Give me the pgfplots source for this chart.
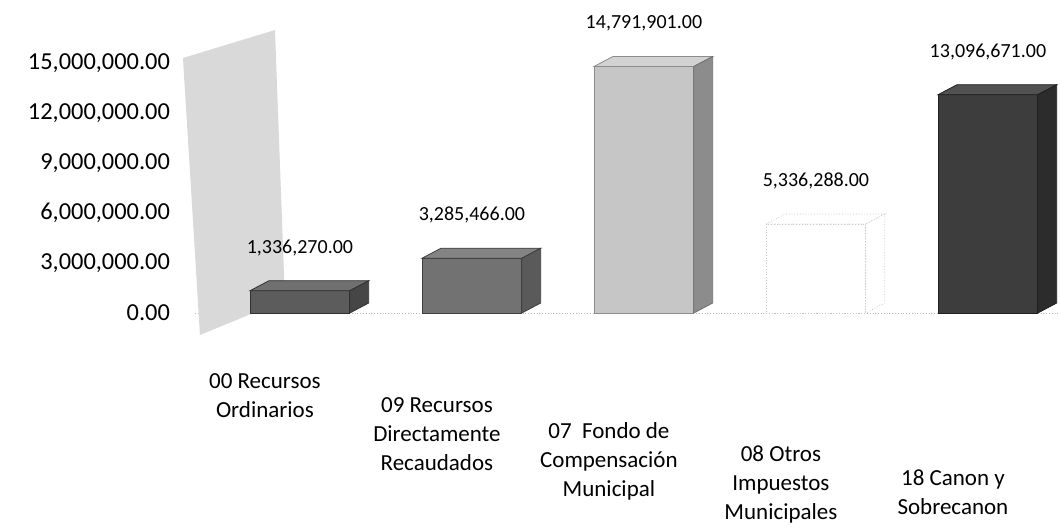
\documentclass[border=0pt]{standalone}
\usepackage{fontspec}
\setmainfont{Carlito}
\usepackage{pgfplots}
\pgfplotsset{compat=1.18}
\definecolor{wall}{HTML}{D9D9D9}
\definecolor{aF}{HTML}{5C5C5C}\definecolor{aT}{HTML}{707070}\definecolor{aS}{HTML}{464646}
\definecolor{bF}{HTML}{727272}\definecolor{bT}{HTML}{848484}\definecolor{bS}{HTML}{5A5A5A}
\definecolor{cF}{HTML}{C6C6C6}\definecolor{cT}{HTML}{D2D2D2}\definecolor{cS}{HTML}{8C8C8C}
\definecolor{eF}{HTML}{3D3D3D}\definecolor{eT}{HTML}{515151}\definecolor{eS}{HTML}{2C2C2C}
\begin{document}
\begin{tikzpicture}
\path[use as bounding box] (-97.5pt,-108pt) rectangle (432.5pt,156.5pt);
\begin{axis}[
  at={(0,0)}, anchor=south west,
  scale only axis, width=432.5pt, height=129.17pt,
  xmin=-0.61, xmax=4.419, ymin=0, ymax=15500000,
  clip=false,
  axis x line=bottom, axis y line=left,
  axis line style={-},
  x axis line style={gray!55, densely dotted},
  y axis line style={draw=none},
  major tick length=0pt,
  scaled y ticks=false,
  ytick={0,3000000,6000000,9000000,12000000,15000000},
  y tick label style={font=\fontsize{12.2}{14}\selectfont, xshift=-9pt,
    /pgf/number format/.cd, fixed, fixed zerofill, precision=2, 1000 sep={,}, assume math mode=true},
  xtick={0,1,2,3,4},
  xticklabels={{00 Recursos\\Ordinarios},{09 Recursos\\Directamente\\Recaudados},{07\ \ Fondo de\\Compensación\\Municipal},{08 Otros\\Impuestos\\Municipales},{18 Canon y\\Sobrecanon}},
  x tick label style={align=center, font=\fontsize{11.5}{14.5}\selectfont, anchor=north, xshift=-17.5pt, yshift=-27pt-12pt*\ticknum},
]
% chart side wall
\addplot[fill=wall, draw=none] coordinates {(-0.680,15300000) (-0.145,16980000) (-0.087,780000) (-0.581,-1320000)} -- cycle;
% 00 Recursos Ordinarios
\addplot[ybar, bar shift=0pt, bar width=0.58, fill=aF, draw=aS!70!black] coordinates {(0,1336270)};
\addplot[fill=aT, draw=aS!70!black] coordinates {(-0.29,1336270) (-0.18,1936270) (0.40,1936270) (0.29,1336270)} -- cycle;
\addplot[fill=aS, draw=aS!70!black] coordinates {(0.29,0) (0.29,1336270) (0.40,1936270) (0.40,600000)} -- cycle;
% 09 Recursos Directamente Recaudados
\addplot[ybar, bar shift=0pt, bar width=0.58, fill=bF, draw=bS!70!black] coordinates {(1,3285466)};
\addplot[fill=bT, draw=bS!70!black] coordinates {(0.71,3285466) (0.82,3885466) (1.40,3885466) (1.29,3285466)} -- cycle;
\addplot[fill=bS, draw=bS!70!black] coordinates {(1.29,0) (1.29,3285466) (1.40,3885466) (1.40,600000)} -- cycle;
% 07 Fondo de Compensacion Municipal
\addplot[ybar, bar shift=0pt, bar width=0.58, fill=cF, draw=cS] coordinates {(2,14791901)};
\addplot[fill=cT, draw=cS] coordinates {(1.71,14791901) (1.82,15391901) (2.40,15391901) (2.29,14791901)} -- cycle;
\addplot[fill=cS, draw=cS!80!black] coordinates {(2.29,0) (2.29,14791901) (2.40,15391901) (2.40,600000)} -- cycle;
% 08 Otros Impuestos Municipales
\addplot[ybar, bar shift=0pt, bar width=0.58, fill=white, draw=gray!45, densely dotted] coordinates {(3,5336288)};
\addplot[fill=white, draw=gray!45, densely dotted] coordinates {(2.71,5336288) (2.82,5936288) (3.40,5936288) (3.29,5336288)} -- cycle;
\addplot[fill=white, draw=gray!45, densely dotted] coordinates {(3.29,0) (3.29,5336288) (3.40,5936288) (3.40,600000)} -- cycle;
% 18 Canon y Sobrecanon
\addplot[ybar, bar shift=0pt, bar width=0.58, fill=eF, draw=eS!70!black] coordinates {(4,13096671)};
\addplot[fill=eT, draw=eS!70!black] coordinates {(3.71,13096671) (3.82,13696671) (4.40,13696671) (4.29,13096671)} -- cycle;
\addplot[fill=eS, draw=eS!70!black] coordinates {(4.29,0) (4.29,13096671) (4.40,13696671) (4.40,600000)} -- cycle;
% value labels
\addplot[draw=none, point meta=explicit symbolic, nodes near coords,
  every node near coord/.append style={font=\fontsize{10}{12}\selectfont, anchor=south, yshift=14pt, text=black}]
  coordinates {(0,1336270) [1,336,270.00] (1,3285466) [3,285,466.00] (2,14791901) [14,791,901.00] (3,5336288) [5,336,288.00] (4,13096671) [13,096,671.00]};
\end{axis}
\end{tikzpicture}
\end{document}
